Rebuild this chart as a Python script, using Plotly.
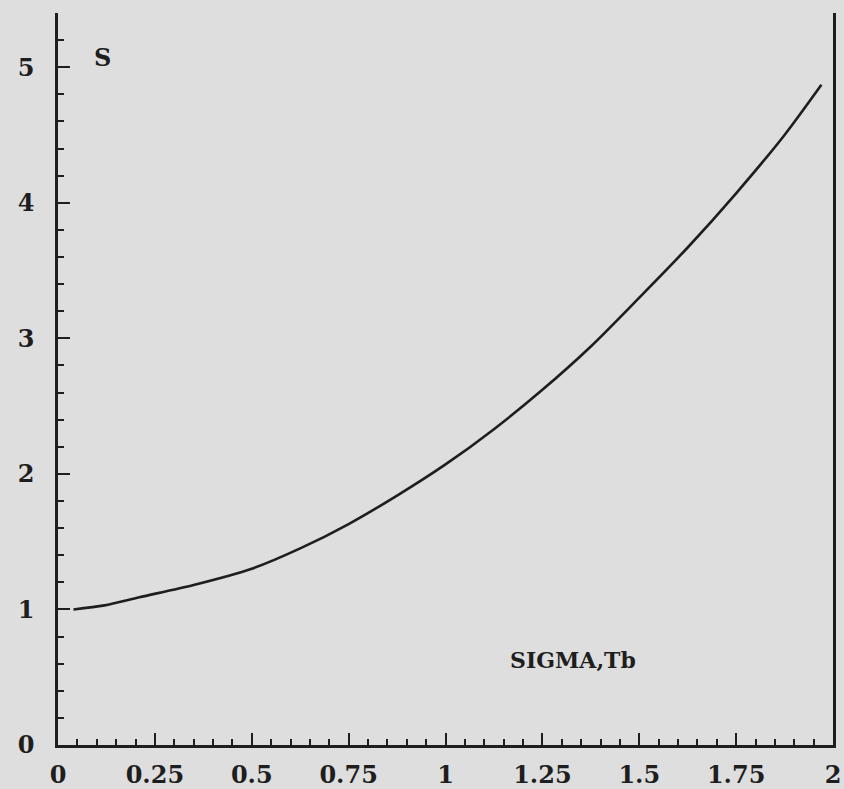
import plotly.graph_objects as go

# Data
sigma = [0.04, 0.12, 0.21, 0.35, 0.5, 0.625, 0.75, 0.875, 1.0, 1.125,
         1.25, 1.375, 1.5, 1.625, 1.75, 1.875, 1.97]
s_vals = [1.00, 1.03, 1.09, 1.18, 1.30, 1.45, 1.63, 1.84, 2.07, 2.33,
          2.62, 2.94, 3.30, 3.67, 4.07, 4.50, 4.87]

x_ticks = [0, 0.25, 0.5, 0.75, 1, 1.25, 1.5, 1.75, 2]
x_ticklabels = ["0", "0.25", "0.5", "0.75", "1", "1.25", "1.5", "1.75", "2"]
y_ticks = [0, 1, 2, 3, 4, 5]
y_ticklabels = ["0", "1", "2", "3", "4", "5"]

BG = "#dedede"
INK = "#1e1e1e"
FONT = "DejaVu Serif"
TICKFONT = dict(family=FONT, size=24, color=INK, weight="bold")

fig = go.Figure()
fig.add_trace(go.Scatter(x=sigma, y=s_vals, mode="lines",
                         line=dict(color=INK, width=2.6, shape="spline",
                                   smoothing=0.8),
                         showlegend=False, hoverinfo="skip"))

fig.update_layout(
    width=844, height=789,
    paper_bgcolor=BG, plot_bgcolor=BG,
    margin=dict(l=58, r=11, t=13, b=44),
    font=dict(family=FONT, color=INK, size=22),
    xaxis=dict(range=[0, 2], tickvals=x_ticks, ticktext=x_ticklabels,
               automargin=False,
               showgrid=False, zeroline=False, showline=True,
               linecolor=INK, linewidth=2.5, ticks="inside", ticklen=12,
               tickwidth=2, tickcolor=INK, ticklabelstandoff=6,
               minor=dict(dtick=0.05, ticks="inside", ticklen=6,
                          tickwidth=2, tickcolor=INK, showgrid=False),
               tickfont=TICKFONT),
    yaxis=dict(range=[0, 5.4], tickvals=y_ticks, ticktext=y_ticklabels,
               automargin=False,
               showgrid=False, zeroline=False, showline=True, mirror=True,
               linecolor=INK, linewidth=2.5, ticks="inside", ticklen=12,
               tickwidth=2, tickcolor=INK, ticklabelstandoff=16,
               minor=dict(dtick=0.2, ticks="inside", ticklen=6,
                          tickwidth=2, tickcolor=INK, showgrid=False),
               tickfont=TICKFONT),
    annotations=[
        dict(x=0.116, y=5.07, xref="x", yref="y", text="<b>S</b>",
             showarrow=False, font=dict(family=FONT, size=24, color=INK)),
        dict(x=1.33, y=0.625, xref="x", yref="y", text="<b>SIGMA,Tb</b>",
             showarrow=False, font=dict(family=FONT, size=22, color=INK)),
    ],
)

fig.write_html("out.html")
